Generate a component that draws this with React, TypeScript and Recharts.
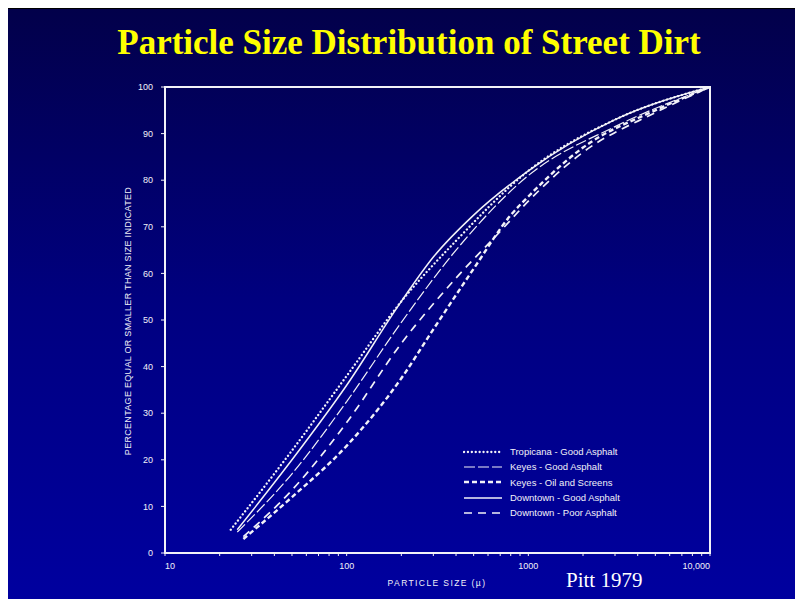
import React from "react";
import { LineChart, Line, XAxis, YAxis, ReferenceArea } from "recharts";

const tropicanaSize = [23, 50, 100, 200, 400, 1000, 3000, 10000];
const tropicanaPct = [5, 22, 38, 54, 67, 82, 93, 100];

const keyesGoodSize = [25, 50, 100, 200, 400, 1000, 3000, 10000];
const keyesGoodPct = [4.5, 17, 32.5, 49.5, 65, 81, 91.5, 100];

const keyesOilSize = [27, 50, 100, 200, 300, 500, 800, 1000, 2000, 5000, 10000];
const keyesOilPct = [3, 12, 23, 37.5, 48, 61, 72.5, 76.5, 87, 95, 100];

const downtownGoodSize = [25, 50, 100, 200, 300, 500, 1000, 3000, 10000];
const downtownGoodPct = [5, 20, 36, 54, 63.5, 72.5, 82, 93, 100];

const downtownPoorSize = [27, 50, 100, 200, 400, 700, 1000, 2000, 5000, 10000];
const downtownPoorPct = [3.5, 13.5, 28, 45, 59, 69, 75.5, 86, 94.5, 100];

const xTicks = [10, 20, 30, 40, 50, 60, 70, 80, 90, 100, 200, 300, 400, 500, 600, 700, 800, 900, 1000, 2000, 3000, 4000, 5000, 6000, 7000, 8000, 9000, 10000];
const xLabels: Record<number, string> = { 10: "10", 100: "100", 1000: "1000", 10000: "10,000" };
const yTicks = [0, 10, 20, 30, 40, 50, 60, 70, 80, 90, 100];

const toPoints = (sizes: number[], pcts: number[]) => sizes.map((x, i) => ({ x, y: pcts[i] }));

const series = [
  { name: "Tropicana - Good Asphalt", data: toPoints(tropicanaSize, tropicanaPct), dash: "0.1 3.8", width: 2.3, cap: "round" },
  { name: "Keyes - Good Asphalt", data: toPoints(keyesGoodSize, keyesGoodPct), dash: "11 3", width: 1.2, cap: "butt" },
  { name: "Keyes - Oil and Screens", data: toPoints(keyesOilSize, keyesOilPct), dash: "5 3", width: 2.4, cap: "butt" },
  { name: "Downtown - Good Asphalt", data: toPoints(downtownGoodSize, downtownGoodPct), dash: undefined, width: 1.5, cap: "butt" },
  { name: "Downtown - Poor Asphalt", data: toPoints(downtownPoorSize, downtownPoorPct), dash: "8 6", width: 1.7, cap: "butt" },
];

const FONT = "'Liberation Sans', Arial, sans-serif";
const INK = "#f2f2f8";

function XTick(props: any) {
  const { x, y, payload } = props;
  const label = xLabels[payload.value];
  if (!label) return null;
  const anchor = payload.value === 10 ? "start" : payload.value === 10000 ? "end" : "middle";
  return (
    <text x={x} y={y} dy="0.8em" textAnchor={anchor} fill={INK} fontSize={9} fontFamily={FONT}>
      {label}
    </text>
  );
}

function Legend() {
  return (
    <div style={{ position: "absolute", left: 455, top: 435, fontFamily: FONT, fontSize: 9.5, color: INK }}>
      {series.map((s) => (
        <div key={s.name} style={{ display: "flex", alignItems: "center", height: 15.3 }}>
          <svg width={40} height={6} style={{ marginRight: 7 }}>
            <line x1={1} y1={3} x2={39} y2={3} stroke={INK} strokeWidth={s.width} strokeDasharray={s.dash} strokeLinecap={s.cap as any} />
          </svg>
          <span>{s.name}</span>
        </div>
      ))}
    </div>
  );
}

export default function App() {
  return (
    <div style={{ width: 795, height: 591, background: "#000", position: "relative" }}>
      <div
        style={{
          position: "absolute",
          left: 0,
          top: 1,
          width: 789,
          height: 590,
          background: "linear-gradient(to bottom, #02004a 0%, #000080 50%, #00009f 100%)",
          overflow: "hidden",
        }}
      >
        <div
          style={{
            position: "absolute",
            left: 0,
            top: 14,
            width: 802,
            textAlign: "center",
            color: "#ffff00",
            fontFamily: "'Liberation Serif', 'Times New Roman', serif",
            fontWeight: "bold",
            fontSize: 35,
            lineHeight: "40px",
          }}
        >
          Particle Size Distribution of Street Dirt
        </div>

        <LineChart width={789} height={590} margin={{ top: 78, right: 87, bottom: 16, left: 117 }}>
          <XAxis
            dataKey="x"
            type="number"
            scale="log"
            domain={[10, 10000]}
            ticks={xTicks}
            interval={0}
            allowDataOverflow
            axisLine={false}
            tickLine={{ stroke: INK, strokeWidth: 1 }}
            tickSize={3}
            tickMargin={6}
            tick={<XTick />}
            height={30}
          />
          <YAxis
            dataKey="y"
            type="number"
            domain={[0, 100]}
            ticks={yTicks}
            interval={0}
            axisLine={false}
            tickLine={{ stroke: INK, strokeWidth: 1 }}
            tickSize={4}
            tickMargin={8}
            width={40}
            tick={{ fill: INK, fontSize: 9, fontFamily: FONT }}
          />
          <ReferenceArea x1={10} x2={10000} y1={0} y2={100} fill="none" stroke={INK} strokeWidth={2} />
          {series.map((s) => (
            <Line
              key={s.name}
              data={s.data}
              dataKey="y"
              type="monotone"
              stroke={INK}
              strokeWidth={s.width}
              strokeDasharray={s.dash}
              strokeLinecap={s.cap as any}
              dot={false}
              activeDot={false}
              isAnimationActive={false}
            />
          ))}
        </LineChart>

        <div
          style={{
            position: "absolute",
            left: 120,
            top: 312,
            transform: "translate(-50%, -50%) rotate(-90deg)",
            whiteSpace: "nowrap",
            fontFamily: FONT,
            fontSize: 9,
            letterSpacing: 0.3,
            color: INK,
          }}
        >
          PERCENTAGE EQUAL OR SMALLER THAN SIZE INDICATED
        </div>

        <div
          style={{
            position: "absolute",
            left: 429,
            top: 574,
            transform: "translate(-50%, -50%)",
            whiteSpace: "nowrap",
            fontFamily: FONT,
            fontSize: 8.5,
            letterSpacing: 1.4,
            color: INK,
          }}
        >
          PARTICLE SIZE (µ)
        </div>

        <div
          style={{
            position: "absolute",
            left: 558,
            top: 559,
            fontFamily: "'Liberation Serif', 'Times New Roman', serif",
            fontSize: 21,
            color: "#ffffff",
            whiteSpace: "nowrap",
          }}
        >
          Pitt 1979
        </div>

        <Legend />
      </div>
    </div>
  );
}
